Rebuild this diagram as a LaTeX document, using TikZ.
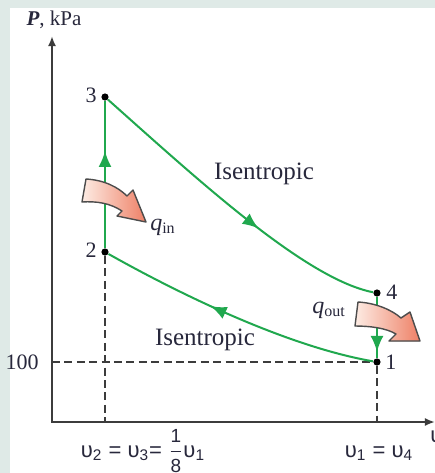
\documentclass[tikz,border=0pt]{standalone}
\usepackage{fontspec}
\usepackage{amsmath}
\setmainfont{Liberation Serif}
\newfontfamily\volfont{Liberation Sans}
\usetikzlibrary{arrows.meta,decorations.markings}
\definecolor{cyclegreen}{RGB}{32,168,78}
\definecolor{framebg}{RGB}{223,234,231}
\definecolor{heatlo}{RGB}{253,236,228}
\definecolor{heathi}{RGB}{238,128,102}
\definecolor{axisgray}{RGB}{60,60,60}
\definecolor{labelink}{RGB}{40,40,60}

\begin{document}
\begin{tikzpicture}[x=0.5pt, y=-0.5pt,
    axis/.style={draw=axisgray, line width=1pt, {Latex[length=5pt,width=4pt]}-{Latex[length=5pt,width=4pt]}},
    guide/.style={draw=axisgray, line width=0.8pt, dash pattern=on 4pt off 2.2pt},
    process/.style={draw=cyclegreen, line width=1pt},
    flowmark/.style={postaction={decorate}, decoration={markings, mark=at position #1 with {\arrow{Latex[length=8pt,width=6.5pt,color=cyclegreen]}}}},
    statept/.style={circle, fill=black, inner sep=0pt, minimum size=3.6pt},
    statelbl/.style={text=labelink, font=\fontsize{11}{12}\selectfont, inner sep=0pt},
    proclbl/.style={text=labelink, font=\fontsize{12.5}{14}\selectfont, inner sep=0pt},
    heatlbl/.style={text=labelink, font=\fontsize{12}{14}\selectfont, inner sep=0pt},
    vollbl/.style={text=labelink, font=\volfont\fontsize{11}{13}\selectfont, inner sep=0pt},
    heatarrow/.style={draw=black!70, line width=0.7pt, line join=round, left color=heatlo, right color=heathi}
]
    \fill[framebg] (0,0) rectangle (435,473);
    \fill[white] (10,8) rectangle (435,473);
    \useasboundingbox (0,0) rectangle (435,473);

    \coordinate (origin) at (52,422);
    \coordinate (ytop) at (52,36);
    \coordinate (xend) at (435,422);
    \coordinate (y100) at (52,362);
    \coordinate (foot2) at (105,422);
    \coordinate (foot1) at (377,422);

    \node[statept] (p1) at (377,362) {};
    \node[statept] (p2) at (105,252) {};
    \node[statept] (p3) at (105,97) {};
    \node[statept] (p4) at (377,293) {};

    \draw[guide] (y100) -- (p1);
    \draw[guide] (p2) -- (foot2);
    \draw[guide] (p1) -- (foot1);
    \draw[axis] (ytop) |- (xend);

    \draw[process, flowmark=0.66] (p2) -- (p3);
    \draw[process, flowmark=0.6] (p3) .. controls (195,177) and (305,279) .. (p4);
    \draw[process, flowmark=0.9] (p4) -- (p1);
    \draw[process, flowmark=0.6] (p1) .. controls (290,347) and (185,297) .. (p2);

    \filldraw[heatarrow] (86,179) .. controls (104,180) and (118,187) .. (127,196)
        -- (133,190) -- (146,222) -- (117,216) -- (122,211)
        .. controls (110,203) and (96,201) .. (82,202) -- cycle;
    \filldraw[heatarrow] (358,302) .. controls (376,303) and (392,310) .. (401,318)
        -- (410,312) -- (420,341) -- (389,341) -- (396,334)
        .. controls (386,328) and (370,326) .. (355,326) -- cycle;

    \node[text=labelink, font=\fontsize{10.5}{12}\selectfont, inner sep=0pt] (ptitle) at (54,20) {\textbf{\textit{P}}, kPa};
    \node[statelbl] (n1) at (391,362) {1};
    \node[statelbl] (n2) at (91,250) {2};
    \node[statelbl] (n3) at (91,95) {3};
    \node[statelbl] (n4) at (392,292) {4};
    \node[statelbl] (n100) at (22,362) {100};
    \node[proclbl] (comp) at (264,174) {Isentropic};
    \node[proclbl] (expn) at (205,340) {Isentropic};
    \node[heatlbl] (qin) at (163,227) {\textit{q}\textsubscript{in}};
    \node[heatlbl] (qout) at (329,310) {\textit{q}\textsubscript{out}};
    \node[vollbl] (vsmall) at (143,451) {υ\textsubscript{2} = υ\textsubscript{3}= $\dfrac{\text{\fontsize{9.5}{10}\selectfont 1}}{\text{\fontsize{9.5}{10}\selectfont 8}}$υ\textsubscript{1}};
    \node[vollbl, anchor=base] (vlarge) at (vsmall.base -| 379,0) {υ\textsubscript{1} = υ\textsubscript{4}};
    \node[vollbl, anchor=west] (vaxis) at (430,437) {υ};
\end{tikzpicture}
\end{document}
